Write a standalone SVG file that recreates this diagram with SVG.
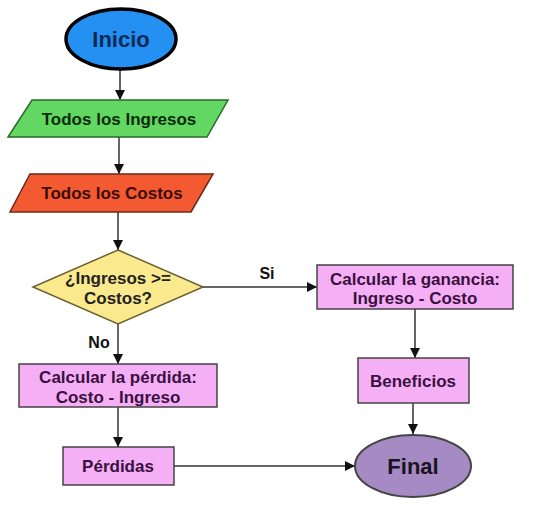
<svg xmlns="http://www.w3.org/2000/svg" width="533" height="518" viewBox="0 0 533 518">
<style>
text{font-family:"Liberation Sans",Arial,sans-serif;font-weight:bold;text-anchor:middle}
.t{font-size:17px}
.box{fill:#f5b0f5;stroke:#444;stroke-width:1.5}
.rt{fill:#3a1040}
.con line{stroke:#333;stroke-width:1.5;fill:none}
.lbl{font-size:16px;fill:#111}
</style>
<defs>
<marker id="ah" viewBox="0 0 10 10" refX="10" refY="5" markerWidth="10" markerHeight="10" markerUnits="userSpaceOnUse" orient="auto">
<path d="M0,0 L10,5 L0,10 Z" fill="#111"/>
</marker>
</defs>
<rect width="533" height="518" fill="#fff"/>
<g id="connectors" class="con">
<line x1="120" y1="70" x2="120" y2="100" marker-end="url(#ah)"/>
<line x1="119" y1="137" x2="119" y2="174" marker-end="url(#ah)"/>
<line x1="118" y1="212" x2="118" y2="250" marker-end="url(#ah)"/>
<line x1="118" y1="324" x2="118" y2="364" marker-end="url(#ah)"/>
<line x1="118" y1="407" x2="118" y2="447" marker-end="url(#ah)"/>
<line x1="174" y1="466" x2="355" y2="466" marker-end="url(#ah)"/>
<line x1="203" y1="287" x2="317" y2="287" marker-end="url(#ah)"/>
<line x1="415" y1="309" x2="415" y2="358" marker-end="url(#ah)"/>
<line x1="413" y1="403" x2="413" y2="434" marker-end="url(#ah)"/>
<text class="lbl" x="267" y="279">Si</text>
<text class="lbl" x="99" y="348">No</text>
</g>
<g id="inicio">
<ellipse cx="121" cy="39" rx="55" ry="30" fill="#2490f2" stroke="#000" stroke-width="3.5"/>
<text x="121" y="47" style="font-size:22px" fill="#0b2858">Inicio</text>
</g>
<g id="ingresos">
<polygon points="32,100 228,100 207,137 8,137" fill="#62d862" stroke="#2a6a2a" stroke-width="1.5"/>
<text class="t" x="119" y="125" fill="#0c2a0c">Todos los Ingresos</text>
</g>
<g id="costos">
<polygon points="30,174 213,174 191,212 10,212" fill="#f45a32" stroke="#6a2a1a" stroke-width="1.5"/>
<text class="t" x="112" y="199" fill="#3a0c06">Todos los Costos</text>
</g>
<g id="decision">
<polygon points="118,250 203,287 118,324 33,287" fill="#fbe98e" stroke="#6a6030" stroke-width="1.5"/>
<text class="t" x="118" y="284" fill="#222">¿Ingresos &gt;=</text>
<text class="t" x="118" y="304" fill="#222">Costos?</text>
</g>
<g id="perdida">
<rect class="box" x="19" y="364" width="198" height="43"/>
<text class="t rt" x="118" y="383">Calcular la pérdida:</text>
<text class="t rt" x="118" y="403">Costo - Ingreso</text>
</g>
<g id="perdidas">
<rect class="box" x="63" y="447" width="111" height="38"/>
<text class="t rt" x="118" y="472">Pérdidas</text>
</g>
<g id="ganancia">
<rect class="box" x="317" y="265" width="196" height="44"/>
<text class="t rt" x="415" y="285">Calcular la ganancia:</text>
<text class="t rt" x="415" y="304">Ingreso - Costo</text>
</g>
<g id="beneficios">
<rect class="box" x="358" y="358" width="111" height="45"/>
<text class="t rt" x="413" y="387">Beneficios</text>
</g>
<g id="final">
<ellipse cx="413" cy="466" rx="58" ry="31" fill="#a58ac4" stroke="#444" stroke-width="2"/>
<text x="413" y="474" style="font-size:22px" fill="#1a1420">Final</text>
</g>
</svg>
